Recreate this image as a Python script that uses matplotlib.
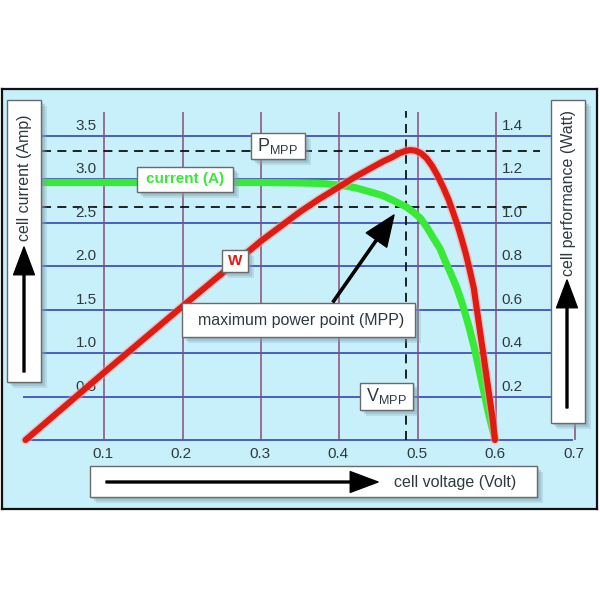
import matplotlib
matplotlib.use("Agg")
import matplotlib.pyplot as plt
from matplotlib.patches import Rectangle

plt.rcParams['font.family'] = ['Liberation Sans', 'DejaVu Sans']
plt.rcParams['mathtext.fontset'] = 'custom'
plt.rcParams['mathtext.rm'] = 'Liberation Sans'

# current curve (A) vs cell voltage (V)
volt_i = [0.02, 0.1, 0.2, 0.3, 0.35, 0.375, 0.40, 0.42, 0.44, 0.455, 0.467, 0.478,
          0.485, 0.494, 0.503, 0.511, 0.519, 0.528, 0.534, 0.541, 0.549, 0.557,
          0.565, 0.572, 0.578, 0.584, 0.590, 0.595, 0.599]
current = [2.96, 2.96, 2.96, 2.96, 2.955, 2.95, 2.93, 2.90, 2.85, 2.81, 2.76, 2.71,
           2.68, 2.62, 2.55, 2.45, 2.33, 2.20, 2.07, 1.93, 1.76, 1.55,
           1.30, 1.05, 0.80, 0.55, 0.30, 0.12, 0.0]

# power curve (W) vs cell voltage (V)
volt_p = [0.0, 0.1, 0.2, 0.3, 0.35, 0.375, 0.40, 0.42, 0.44, 0.455, 0.467, 0.476,
          0.483, 0.490, 0.497, 0.504, 0.511, 0.518, 0.525, 0.532, 0.539, 0.545,
          0.551, 0.556, 0.561, 0.566, 0.571, 0.575, 0.579, 0.583, 0.587, 0.591,
          0.595, 0.598]
power = [0.0, 0.31, 0.615, 0.915, 1.05, 1.11, 1.165, 1.21, 1.25, 1.28, 1.30, 1.318,
         1.328, 1.333, 1.33, 1.318, 1.295, 1.26, 1.215, 1.163, 1.105, 1.044,
         0.98, 0.92, 0.855, 0.78, 0.70, 0.60, 0.50, 0.40, 0.30, 0.20,
         0.10, 0.0]

v_mpp, i_mpp, p_mpp = 0.485, 2.68, 1.33

amp_ticks = [0.5, 1.0, 1.5, 2.0, 2.5, 3.0, 3.5]
watt_ticks = [0.2, 0.4, 0.6, 0.8, 1.0, 1.2, 1.4]
volt_ticks = [0.1, 0.2, 0.3, 0.4, 0.5, 0.6, 0.7]

BG = '#c8f0fa'
BLUE = '#3444bb'
PURPLE = '#8b4a7a'
RED = '#e01b12'
GREEN = '#38ea38'
TXT = '#2f3a40'


def px(x, y):
    return (x / 600, 1 - y / 600)


fig = plt.figure(figsize=(6, 6), dpi=100)
fig.patch.set_facecolor('white')

# main axes sits on the framed panel (pixels 2..597 x 89..509)
ax = fig.add_axes([2 / 600, 1 - 509 / 600, 595 / 600, 420 / 600])
ax.set_facecolor(BG)
ax.set_xlim(-0.02994, 0.72803)
ax.set_ylim(-0.7931, 4.0345)
ax.set_xticks([]); ax.set_yticks([])
for s in ax.spines.values():
    s.set_color('#111111'); s.set_linewidth(1.6)

ax2 = ax.twinx()
ax2.set_ylim(-0.7931 * 0.4, 4.0345 * 0.4)
ax2.set_yticks([]); ax2.axis('off')

# grid
ax.hlines([0.0] + amp_ticks, -0.003, 0.698, color=BLUE, lw=1.2, zorder=1)
ax.vlines(volt_ticks, 0, 3.77, color=PURPLE, lw=1.1, zorder=1)

# MPP dashed guides
ax.hlines(p_mpp / 0.4, 0.021, 0.655, color='#111111', lw=1.3, ls=(0, (5, 3.5)), zorder=2)
ax.hlines(i_mpp, 0.021, 0.646, color='#111111', lw=1.3, ls=(0, (5, 3.5)), zorder=2)
ax.vlines(v_mpp, 0, 3.78, color='#111111', lw=1.3, ls=(0, (5, 3.5)), zorder=2)

# curves
ax.plot(volt_i, current, color=GREEN, lw=5.2, solid_capstyle='butt',
        solid_joinstyle='round', zorder=4)
ax2.plot(volt_p, power, color='#f3a0a0', lw=6.5, alpha=0.5, solid_capstyle='round',
         solid_joinstyle='round', zorder=4.5)
ax2.plot(volt_p, power, color=RED, lw=4.4, solid_capstyle='round',
         solid_joinstyle='round', zorder=5)

# tick labels
for a in amp_ticks:
    ax.annotate(f"{a:.1f}", (0.077, a), xytext=(0, 7), textcoords='offset points',
                ha='center', va='center', fontsize=11, color=TXT, zorder=6)
for w in watt_ticks:
    ax2.annotate(f"{w:.1f}", (0.62, w), xytext=(0, 7), textcoords='offset points',
                 ha='center', va='center', fontsize=11, color=TXT, zorder=6)
for v in volt_ticks:
    ax.annotate(f"{v:.1f}", (v, 0), xytext=(-1, -10), textcoords='offset points',
                ha='center', va='center', fontsize=11, color=TXT, zorder=6)


def box(x0, y0, x1, y1):
    for off, al in [(6, 0.25), (4, 0.35), (2, 0.35)]:
        fig.add_artist(Rectangle(px(x0 + off, y1 + off), (x1 - x0) / 600, (y1 - y0) / 600,
                                 transform=fig.transFigure, facecolor='#7f9fab',
                                 edgecolor='none', alpha=al, zorder=7))
    fig.add_artist(Rectangle(px(x0, y1), (x1 - x0) / 600, (y1 - y0) / 600,
                             transform=fig.transFigure, facecolor='white',
                             edgecolor='#6a6a6a', lw=1.0, zorder=8))


def arrow(x0, y0, x1, y1, hw=14, hl=18, w=1.4):
    fig.add_artist(plt.Annotation('', xy=px(x1, y1), xytext=px(x0, y0),
                                  xycoords='figure fraction', textcoords='figure fraction',
                                  arrowprops=dict(facecolor='black', edgecolor='black',
                                                  width=w, headwidth=hw, headlength=hl,
                                                  shrink=0), zorder=10))


# axis label boxes
box(7, 100, 41, 382)
fig.text(*px(25, 178), "cell current (Amp)", rotation=90, ha='center', va='center',
         fontsize=11.5, color=TXT, zorder=9)
arrow(24, 372, 24, 247, hw=15, hl=20)

box(551, 100, 585, 423)
fig.text(*px(568, 193), "cell performance (Watt)", rotation=90, ha='center', va='center',
         fontsize=11.5, color=TXT, zorder=9)
arrow(567, 408, 567, 280, hw=15, hl=20)

box(90, 466, 537, 497)
fig.text(*px(455, 482), "cell voltage (Volt)", ha='center', va='center',
         fontsize=11.5, color=TXT, zorder=9)
arrow(106, 482, 378, 482, hw=15, hl=20)

# annotation boxes
box(251, 133, 305, 159)
fig.text(*px(277, 146), r"$\mathrm{P_{MPP}}$", ha='center', va='center',
         fontsize=13, color=TXT, zorder=9)

box(137, 167, 233, 192)
fig.text(*px(185, 179), "current (A)", ha='center', va='center', fontsize=11,
         fontweight='bold', color=GREEN, zorder=9)

box(222, 250, 248, 272)
fig.text(*px(235, 261), "W", ha='center', va='center', fontsize=11,
         fontweight='bold', color=RED, zorder=9)

box(182, 303, 415, 337)
fig.text(*px(301, 320), "maximum power point (MPP)", ha='center', va='center',
         fontsize=11.5, color=TXT, zorder=9)

box(360, 383, 413, 410)
fig.text(*px(386, 396), r"$\mathrm{V_{MPP}}$", ha='center', va='center',
         fontsize=13, color=TXT, zorder=9)

# arrow pointing at the MPP
arrow(333, 302, 394, 215, hw=18, hl=22, w=1.6)

fig.savefig("out.png", dpi=100, facecolor='white')
